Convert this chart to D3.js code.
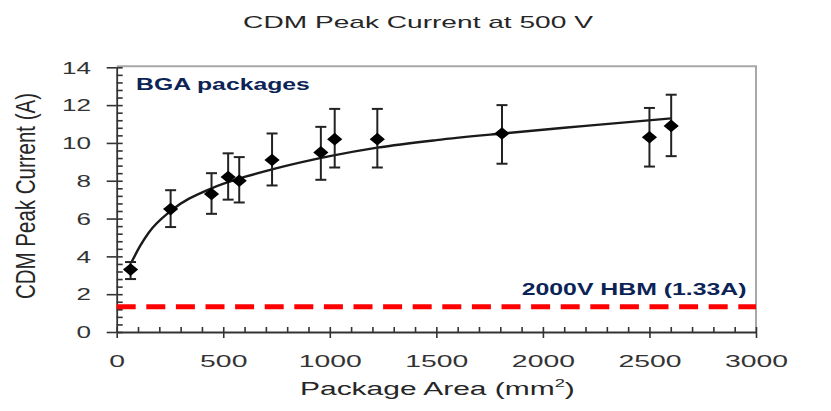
<!DOCTYPE html>
<html><head><meta charset="utf-8">
<script src="https://cdn.jsdelivr.net/npm/d3@7"></script>
<style>
body{margin:0;background:#fff}
svg{display:block}
text{font-family:"Liberation Sans",Arial,sans-serif}
</style>
</head><body>
<svg id="c" width="831" height="411"></svg>
<script>
// ---- data ----
const areas       = [65, 253, 445, 523, 575, 729, 958, 1023, 1223, 1808, 2500, 2602];
const peakCurrent = [3.3, 6.5, 7.3, 8.2, 8.0, 9.1, 9.5, 10.2, 10.2, 10.5, 10.3, 10.9];
const errHigh     = [3.7, 7.5, 8.4, 9.45, 9.25, 10.5, 10.85, 11.8, 11.8, 12.0, 11.85, 12.55];
const errLow      = [2.8, 5.55, 6.25, 7.0, 6.85, 7.75, 8.05, 8.7, 8.7, 8.9, 8.75, 9.3];
const fitArea     = [70, 110, 150, 253, 445, 600, 729, 1000, 1223, 1500, 1808, 2200, 2602];
const fitCurrent  = [3.7, 4.55, 5.25, 6.4, 7.6, 8.2, 8.6, 9.3, 9.75, 10.15, 10.5, 10.9, 11.3];
const hbmLevel    = 1.33;
const xTicks      = [0, 500, 1000, 1500, 2000, 2500, 3000];
const xMinorTicks = d3.range(0, 3001, 100);
const yTicks      = [0, 2, 4, 6, 8, 10, 12, 14];
const yMinorTicks = d3.range(0, 14.01, 0.4).map(v => +v.toFixed(1));
const titleText   = "CDM Peak Current at 500 V";
const yTitleText  = "CDM Peak Current (A)";
const seriesLabel = "BGA packages";
const hbmLabel    = "2000V HBM (1.33A)";

// ---- layout ----
const svg = d3.select("#c");
const L = 116.7, R = 756, T = 67.3, B = 332;
const x = d3.scaleLinear().domain([0, 3000]).range([L, R]);
const y = d3.scaleLinear().domain([0, 14]).range([B, T]);

function fitWidth(sel, target) {
  const w = sel.node().getComputedTextLength();
  return target / w;
}

// frame (top / right)
svg.append("path")
  .attr("d", `M${L},${T-1}H${R}V${B}`)
  .attr("fill", "none").attr("stroke", "#a8a8a8").attr("stroke-width", 2);

// y axis
const gy = svg.append("g").attr("transform", `translate(${L},0)`);
gy.call(d3.axisLeft(y).tickValues(yTicks).tickFormat(d3.format("d")).tickSizeInner(10).tickSizeOuter(0).tickPadding(0));
const gyIn = svg.append("g").attr("transform", `translate(${L},0)`);
gyIn.call(d3.axisRight(y).tickValues(yMinorTicks).tickSizeInner(6).tickSizeOuter(0).tickFormat(""));
gyIn.select(".domain").remove();

// x axis
const gx = svg.append("g").attr("transform", `translate(0,${B})`);
gx.call(d3.axisBottom(x).tickValues(xTicks).tickFormat(d3.format("d")).tickSizeInner(6).tickSizeOuter(0).tickPadding(0));
const gxIn = svg.append("g").attr("transform", `translate(0,${B})`);
gxIn.call(d3.axisTop(x).tickValues(xMinorTicks).tickSizeInner(5).tickSizeOuter(0).tickFormat(""));
gxIn.select(".domain").remove();

svg.selectAll(".domain").attr("stroke", "#333").attr("stroke-width", 1.8);
svg.selectAll(".tick line").attr("stroke", "#333").attr("stroke-width", 1.6);

gy.selectAll(".tick text")
  .attr("x", 0).attr("dy", "0.36em")
  .attr("font-size", 16).attr("fill", "#333").attr("font-family", null)
  .attr("transform", "translate(-25.7,0) scale(1.63,1)");
gx.selectAll(".tick text")
  .attr("y", 0).attr("dy", 0)
  .attr("font-size", 17).attr("fill", "#333").attr("font-family", null)
  .attr("transform", "translate(0,34.7) scale(1.67,1)");

// HBM dashed line
svg.append("line")
  .attr("x1", x(0)).attr("x2", x(3000))
  .attr("y1", y(hbmLevel)).attr("y2", y(hbmLevel))
  .attr("stroke", "#ff0000").attr("stroke-width", 5)
  .attr("stroke-dasharray", "19 10.6");

// fitted curve
svg.append("path")
  .datum(fitArea.map((a, i) => [a, fitCurrent[i]]))
  .attr("d", d3.line().x(d => x(d[0])).y(d => y(d[1])).curve(d3.curveMonotoneX))
  .attr("fill", "none").attr("stroke", "#1a1a1a").attr("stroke-width", 2.4);

// error bars
const eb = svg.append("g").attr("stroke", "#222").attr("stroke-width", 2);
areas.forEach((a, i) => {
  const cx = x(a);
  eb.append("line").attr("x1", cx).attr("x2", cx).attr("y1", y(errLow[i])).attr("y2", y(errHigh[i]));
  eb.append("line").attr("x1", cx - 5.5).attr("x2", cx + 5.5).attr("y1", y(errLow[i])).attr("y2", y(errLow[i]));
  eb.append("line").attr("x1", cx - 5.5).attr("x2", cx + 5.5).attr("y1", y(errHigh[i])).attr("y2", y(errHigh[i]));
});

// diamond markers
svg.append("g").selectAll("path")
  .data(areas.map((a, i) => [a, peakCurrent[i]]))
  .join("path")
  .attr("transform", d => `translate(${x(d[0])},${y(d[1])})`)
  .attr("d", "M0,-6.3L7.6,0L0,6.3L-7.6,0Z")
  .attr("fill", "#000");

// title
const title = svg.append("text").text(titleText)
  .attr("text-anchor", "middle").attr("font-size", 17).attr("fill", "#262626");
title.attr("transform", `translate(418,27.5) scale(${fitWidth(title, 350)},1)`);

// series label
const bga = svg.append("text").text(seriesLabel)
  .attr("font-size", 17).attr("font-weight", "bold").attr("fill", "#0c2356");
bga.attr("transform", `translate(136,90) scale(${fitWidth(bga, 174)},1)`);

// HBM label
const hbm = svg.append("text").text(hbmLabel)
  .attr("font-size", 17).attr("font-weight", "bold").attr("fill", "#0c2356");
hbm.attr("transform", `translate(521.7,295) scale(${fitWidth(hbm, 225)},1)`);

// y title
const yt = svg.append("text").text(yTitleText)
  .attr("text-anchor", "middle").attr("font-size", 16.5).attr("fill", "#262626")
  .attr("textLength", 206).attr("lengthAdjust", "spacingAndGlyphs");
yt.attr("transform", "translate(35,196) scale(1.7,1) rotate(-90)");

// x title
const xt = svg.append("text").attr("text-anchor", "start").attr("font-size", 18).attr("fill", "#262626");
xt.append("tspan").text("Package Area (mm");
xt.append("tspan").text("2").attr("font-size", 11).attr("dy", -8);
xt.append("tspan").text(")").attr("dy", 8);
xt.attr("transform", `translate(300,395) scale(${fitWidth(xt, 275)},1)`);
</script>
</body></html>
